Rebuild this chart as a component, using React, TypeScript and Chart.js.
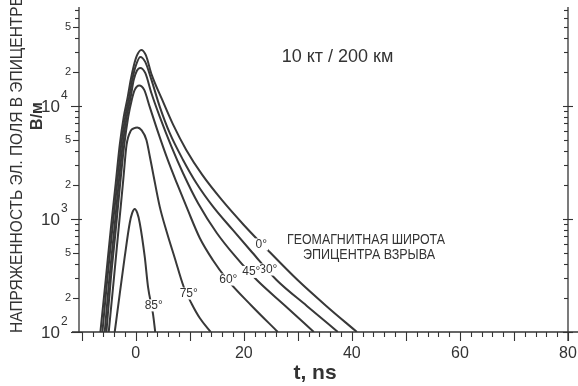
import { useEffect, useRef } from 'react';
import { Chart, registerables } from 'chart.js';

Chart.register(...registerables);

// Field strength at the epicentre, 10 kt burst at 200 km: [t (ns), E (V/m)]
const lat0: [number, number][] = [
  [-6.54, 100], [-5.56, 288], [-4.63, 800], [-3.7, 2080], [-2.96, 4520], [-2.22, 7990],
  [-1.48, 12010], [-0.93, 16990], [-0.37, 22590], [0.19, 27700], [1.02, 31300],
  [1.85, 28270], [2.96, 18810], [4.91, 11300], [6.94, 6790], [9.35, 4080], [12.32, 2451],
  [15.93, 1473], [20.0, 885], [24.41, 532], [29.96, 288], [35.26, 170], [40.93, 100],
];
const lat30: [number, number][] = [
  [-6.17, 100], [-5.28, 288], [-4.35, 800], [-3.43, 2080], [-2.69, 4520], [-1.94, 7990],
  [-1.2, 12010], [-0.65, 16990], [0, 22590], [0.83, 27150],
  [1.76, 24510], [2.91, 16990], [4.44, 9860], [6.3, 5735], [8.76, 3327], [11.24, 2070],
  [14.31, 1285], [17.96, 799], [21.48, 510], [26.06, 288], [31.67, 170], [37.41, 100],
];
const lat45: [number, number][] = [
  [-5.74, 100], [-4.91, 288], [-3.98, 800], [-3.15, 2080], [-2.41, 4520], [-1.67, 7990],
  [-0.93, 12010], [-0.37, 16990], [0.19, 20400], [0.83, 21690],
  [1.76, 19590], [2.91, 12950], [4.44, 8040], [6.61, 4364], [8.76, 2538], [11.54, 1377],
  [15.0, 752], [18.52, 461], [22.41, 288], [27.69, 170], [32.96, 100],
];
const lat60: [number, number][] = [
  [-5.43, 100], [-4.63, 288], [-3.7, 800], [-2.87, 2080], [-2.13, 4520], [-1.39, 7990],
  [-0.74, 11300], [-0.19, 13870], [0.65, 15180],
  [1.57, 13860], [2.59, 9800], [4.17, 5770], [5.93, 3327], [7.59, 2083], [9.63, 1201],
  [11.85, 679], [14.26, 434], [16.85, 294], [21.48, 170], [26.3, 100],
];
const lat75: [number, number][] = [
  [-5.0, 100], [-4.07, 288], [-3.19, 800], [-2.31, 2215], [-1.7, 4520], [-0.93, 6010],
  [-0.37, 6320], [0.28, 6454],
  [1.11, 6070], [1.98, 5003], [2.59, 3610], [3.2, 2553], [4.44, 1285], [5.74, 767],
  [7.22, 452], [8.89, 250], [10.37, 177], [11.85, 133], [13.89, 100],
];
const lat85: [number, number][] = [
  [-3.89, 100], [-2.96, 217], [-2.04, 461], [-1.11, 922], [-0.65, 1130], [-0.19, 1225],
  [0.28, 1130], [0.74, 922], [1.67, 461], [2.28, 250], [3.2, 144], [3.61, 100],
];

const seriesNames = ['0°', '30°', '45°', '60°', '75°', '85°'];
const seriesData = [lat0, lat30, lat45, lat60, lat75, lat85];

// curve labels, anchored in data units
const labelTimes = [23.24, 24.54, 21.39, 17.13, 9.81, 3.33];
const labelFields = [595, 357, 340, 291, 219, 172];

const xTickLabels = [0, 20, 40, 60, 80];
const yDecades = [100, 1000, 10000];
const yDecadeExponents = ['2', '3', '4'];
const yMinorLabelled = [2, 5];

const TITLE = '10 кт / 200 км';
const X_TITLE = 't, ns';
const Y_TITLE = 'НАПРЯЖЕННОСТЬ ЭЛ. ПОЛЯ В ЭПИЦЕНТРЕ';
const Y_UNITS = 'В/м';
const NOTE_1 = 'ГЕОМАГНИТНАЯ ШИРОТА';
const NOTE_2 = 'ЭПИЦЕНТРА ВЗРЫВА';

const INK = '#333333';
const FONT = "'Liberation Sans', Arial, Helvetica, sans-serif";

const backgroundPlugin = {
  id: 'paper',
  beforeDraw(chart: any) {
    const { ctx, width, height } = chart;
    ctx.save();
    ctx.fillStyle = '#ffffff';
    ctx.fillRect(0, 0, width, height);
    ctx.restore();
  },
};

const curveLabelPlugin = {
  id: 'curveLabels',
  afterDatasetsDraw(chart: any) {
    const { ctx, scales } = chart;
    ctx.save();
    ctx.font = `12px ${FONT}`;
    ctx.textAlign = 'center';
    ctx.textBaseline = 'middle';
    seriesNames.forEach((name, i) => {
      const px = scales.x.getPixelForValue(labelTimes[i]);
      const py = scales.y.getPixelForValue(labelFields[i]);
      const w = ctx.measureText(name).width;
      ctx.fillStyle = '#ffffff';
      ctx.fillRect(px - w / 2 - 1, py - 6, w + 2, 12);
      ctx.fillStyle = INK;
      ctx.fillText(name, px, py);
    });
    ctx.restore();
  },
};

const axesPlugin = {
  id: 'frameAxes',
  afterDraw(chart: any) {
    const { ctx, chartArea: a, scales, width } = chart;
    const x = scales.x;
    const y = scales.y;
    const seg = (x1: number, y1: number, x2: number, y2: number) => {
      ctx.beginPath();
      ctx.moveTo(x1, y1);
      ctx.lineTo(x2, y2);
      ctx.stroke();
    };
    ctx.save();
    ctx.strokeStyle = INK;
    ctx.fillStyle = INK;
    ctx.lineWidth = 1.3;

    // axis lines
    seg(a.left, a.top, a.left, a.bottom);
    seg(a.right, a.top, a.right, a.bottom + 9);
    seg(a.left - 7, a.bottom, width, a.bottom);

    // logarithmic ticks on both vertical axes
    ctx.lineWidth = 1.1;
    yDecades.forEach((d) => {
      for (let m = 1; m <= 9; m++) {
        const v = d * m;
        if (v > y.max) break;
        const py = Math.round(y.getPixelForValue(v)) + 0.5;
        if (m === 1) {
          seg(a.left - 8, py, a.left + 3, py);
          seg(a.right - 5, py, a.right + 5, py);
        } else {
          const len = yMinorLabelled.includes(m) ? 6 : 4;
          seg(a.left - len, py, a.left, py);
          seg(a.right - 4, py, a.right, py);
        }
      }
    });

    // time ticks: every 2 ns, longer every 10 ns
    for (let t = -10; t <= 80; t += 2) {
      const px = Math.round(x.getPixelForValue(t)) + 0.5;
      if (px < a.left - 0.5) continue;
      const major = t % 10 === 0;
      seg(px, a.bottom, px, a.bottom + (major ? 9 : 5));
    }

    // y tick labels
    ctx.textBaseline = 'middle';
    yDecades.forEach((d, i) => {
      const py = y.getPixelForValue(d);
      ctx.textAlign = 'right';
      ctx.font = `17px ${FONT}`;
      ctx.fillText('10', 60, py + 1);
      ctx.textAlign = 'left';
      ctx.font = `12px ${FONT}`;
      ctx.fillText(yDecadeExponents[i], 61, py - 10);
      yMinorLabelled.forEach((m) => {
        const v = d * m;
        if (v > y.max) return;
        ctx.textAlign = 'right';
        ctx.font = `11px ${FONT}`;
        ctx.fillText(String(m), 71, y.getPixelForValue(v));
      });
    });

    // x tick labels
    ctx.textAlign = 'center';
    ctx.font = `16px ${FONT}`;
    xTickLabels.forEach((v) => {
      ctx.fillText(String(v), x.getPixelForValue(v), 354);
    });

    // axis titles
    ctx.font = `bold 21px ${FONT}`;
    ctx.fillText(X_TITLE, 315, 373);

    ctx.save();
    ctx.translate(17.5, 333);
    ctx.rotate(-Math.PI / 2);
    ctx.textAlign = 'left';
    ctx.font = `17px ${FONT}`;
    ctx.fillText(Y_TITLE, 0, 0, 337);
    ctx.restore();

    ctx.save();
    ctx.translate(38, 116);
    ctx.rotate(-Math.PI / 2);
    ctx.textAlign = 'center';
    ctx.font = `bold 16px ${FONT}`;
    ctx.fillText(Y_UNITS, 0, 0);
    ctx.restore();

    // heading and legend note
    ctx.textAlign = 'center';
    ctx.font = `18px ${FONT}`;
    ctx.fillText(TITLE, 337.5, 57, 112);
    ctx.font = `14px ${FONT}`;
    ctx.fillText(NOTE_1, 366, 240, 158);
    ctx.fillText(NOTE_2, 369, 255, 132);

    ctx.restore();
  },
};

export default function App() {
  const ref = useRef<HTMLCanvasElement>(null);

  useEffect(() => {
    if (!ref.current) return;
    const chart = new Chart(ref.current, {
      type: 'line',
      data: {
        datasets: seriesData.map((pts, i) => ({
          label: seriesNames[i],
          data: pts.map(([t, e]) => ({ x: t, y: e })),
          borderColor: '#383838',
          borderWidth: 2,
          pointRadius: 0,
          fill: false,
          cubicInterpolationMode: 'monotone' as const,
        })),
      },
      options: {
        animation: false,
        responsive: false,
        devicePixelRatio: 1,
        layout: { padding: { left: 79, right: 10, top: 7, bottom: 54 } },
        scales: {
          x: { type: 'linear', min: -10.5, max: 80, display: false },
          y: { type: 'logarithmic', min: 100, max: 75000, display: false },
        },
        plugins: {
          legend: { display: false },
          tooltip: { enabled: false },
        },
        events: [],
      },
      plugins: [backgroundPlugin, curveLabelPlugin, axesPlugin],
    });
    return () => chart.destroy();
  }, []);

  return (
    <div style={{ position: 'fixed', left: 0, top: 0, width: 578, height: 386, background: '#fff' }}>
      <canvas ref={ref} width={578} height={386} style={{ display: 'block', width: 578, height: 386 }} />
    </div>
  );
}
